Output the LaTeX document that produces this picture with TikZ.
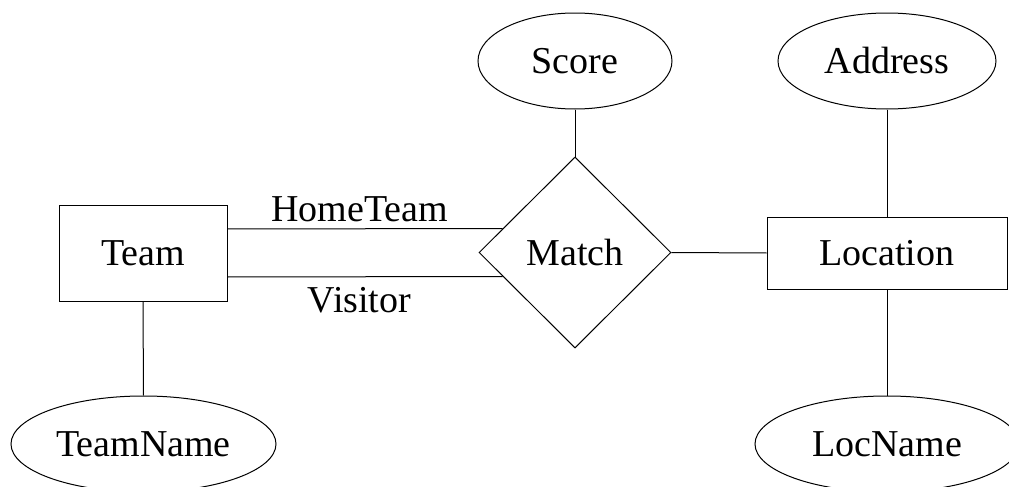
\documentclass[tikz,border=0pt]{standalone}
\usepackage{fontspec}
\setmainfont{Liberation Serif}
\usepackage{tikz}
\usetikzlibrary{shapes.geometric}
\tikzset{
    entity/.style={draw=black, rectangle, inner sep=0pt},
    relation/.style={draw=black, diamond, inner sep=0pt, minimum width=96pt, minimum height=95.5pt},
    attribute/.style={draw=black, ellipse, inner sep=0pt, minimum height=48pt},
    link/.style={draw=black},
}
\begin{document}
\begin{tikzpicture}[x=.5pt, y=-.5pt, line width=.5pt, font=\fontsize{19}{23}\selectfont]
		\useasboundingbox (0,0) rectangle (1009,487);
		\node[entity, minimum width=84pt, minimum height=48pt] (team) at (143,253) {Team};
		\node[entity, minimum width=120pt, minimum height=36pt] (location) at (887,253) {Location};
		\node[relation] (match) at (575,252.5) {Match};
		\node[attribute, minimum width=97pt] (score) at (575,61) {Score};
		\node[attribute, minimum width=109pt] (address) at (887,61) {Address};
		\node[attribute, minimum width=132.5pt] (teamname) at (143.5,444) {TeamName};
		\node[attribute, minimum width=132pt] (locname) at (887,444) {LocName};
		\draw[link] ([yshift=12pt]team.east) -- ([xshift=12pt,yshift=12pt]match.west)
			node[pos=.48, above] (hometeam) {HomeTeam};
		\draw[link] ([yshift=-12pt]team.east) -- ([xshift=12pt,yshift=-12pt]match.west)
			node[pos=.48, below, yshift=-1.5pt] (visitor) {Visitor};
		\draw[link] (match.east) -- (location.west);
		\draw[link] (score.south) -- (match.north);
		\draw[link] (address.south) -- (location.north);
		\draw[link] (team.south) -- (teamname.north);
		\draw[link] (location.south) -- (locname.north);
\end{tikzpicture}
\end{document}
